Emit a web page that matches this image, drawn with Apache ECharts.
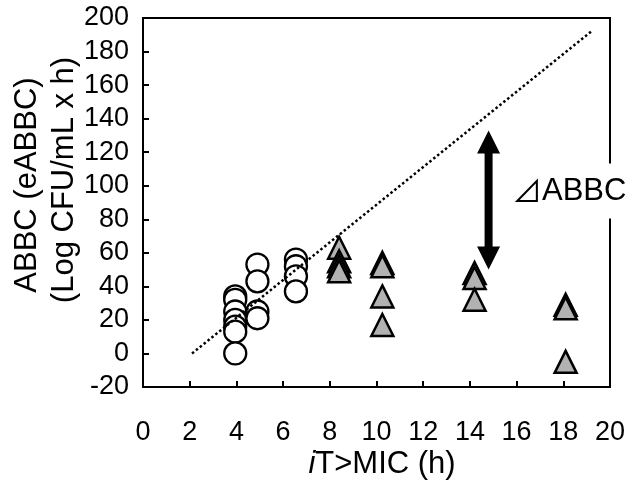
<!DOCTYPE html>
<html>
<head>
<meta charset="utf-8">
<script src="https://cdn.jsdelivr.net/npm/echarts@6/dist/echarts.min.js"></script>
<style>
  html, body { margin: 0; padding: 0; background: #fff; }
  #chart { width: 632px; height: 486px; }
</style>
</head>
<body>
<div id="chart"></div>
<script>
const FONT = '"Liberation Sans", Arial, Helvetica, sans-serif';
const SYMBOL_FONT = '"Noto Sans CJK JP", "Liberation Sans", sans-serif';

// Regimens with short time above MIC (open circles)
const circleX = [3.95, 3.95, 3.95, 3.95, 3.95, 3.95, 3.95, 4.9, 4.9, 4.9, 4.9, 6.55, 6.55, 6.55, 6.55];
const circleY = [34, 32, 25, 20, 16, 13, 0, 53, 43, 25, 21, 56, 52, 46, 37];

// Regimens with longer time above MIC (grey triangles)
const triangleX = [8.4, 8.4, 8.4, 8.4, 10.25, 10.25, 10.25, 10.25, 14.2, 14.2, 14.2, 18.1, 18.1, 18.1];
const triangleY = [63, 55, 52, 49, 54, 52, 34, 17, 48, 45, 32, 29, 27, -5];

// Expected ABBC (eABBC) reference line
const refLineX = [2.1, 19.2];
const refLineY = [0, 192];

// Double-headed arrow marking the ABBC shortfall
const arrowX = [14.8];
const arrowTop = [133];
const arrowBottom = [50];
const arrowSymbol = '⊿';
const arrowLabel = 'ABBC';

const zip = (xs, ys) => xs.map((x, i) => [x, ys[i]]);

const chart = echarts.init(document.getElementById('chart'), null, { renderer: 'canvas' });

const axisCommon = {
  axisLine: { show: true, onZero: false, lineStyle: { color: '#000', width: 2 } },
  axisTick: { show: true, inside: true, length: 6, lineStyle: { color: '#000', width: 2 } },
  splitLine: { show: false },
  axisLabel: { color: '#000', fontSize: 27, fontFamily: FONT }
};

chart.setOption({
  animation: false,
  backgroundColor: '#fff',
  grid: {
    left: 143, top: 18, right: 22, bottom: 99,
    show: true, borderColor: '#000', borderWidth: 2, backgroundColor: 'transparent'
  },
  xAxis: Object.assign({}, axisCommon, {
    type: 'value', min: 0, max: 20, interval: 2,
    axisLabel: Object.assign({}, axisCommon.axisLabel, { margin: 32 })
  }),
  yAxis: Object.assign({}, axisCommon, {
    type: 'value', min: -20, max: 200, interval: 20,
    axisLabel: Object.assign({}, axisCommon.axisLabel, { margin: 14 })
  }),
  series: [
    {
      type: 'scatter',
      data: zip(circleX, circleY),
      symbol: 'circle',
      symbolSize: 22,
      itemStyle: { color: '#fff', borderColor: '#000', borderWidth: 2.3, opacity: 1 },
      z: 2
    },
    {
      type: 'line',
      data: zip(refLineX, refLineY),
      showSymbol: false,
      symbol: 'none',
      lineStyle: { color: '#000', width: 2.5, type: [2.5, 2.5] },
      z: 3
    },
    {
      type: 'scatter',
      data: zip(triangleX, triangleY),
      symbol: 'triangle',
      symbolSize: [22, 22],
      itemStyle: { color: '#b2b2b2', borderColor: '#000', borderWidth: 2.5, opacity: 1 },
      z: 4
    },
    {
      type: 'custom',
      data: arrowX.map((x, i) => [x, arrowTop[i], arrowBottom[i]]),
      encode: { x: 0, y: [1, 2] },
      renderItem: function (params, api) {
        const top = api.coord([api.value(0), api.value(1)]);
        const bot = api.coord([api.value(0), api.value(2)]);
        const x = top[0], t = top[1], b = bot[1];
        const hw = 11.5, hh = 23, sw = 4;
        return {
          type: 'polygon',
          shape: {
            points: [
              [x, t], [x + hw, t + hh], [x + sw, t + hh], [x + sw, b - hh], [x + hw, b - hh],
              [x, b], [x - hw, b - hh], [x - sw, b - hh], [x - sw, t + hh], [x - hw, t + hh]
            ]
          },
          style: { fill: '#000' }
        };
      },
      z: 5
    }
  ],
  graphic: [
    {
      type: 'text', z: 100,
      x: 512, y: 191,
      style: {
        text: '{s|' + arrowSymbol + '}' + arrowLabel,
        rich: { s: { fontFamily: SYMBOL_FONT, fontSize: 30, fill: '#000' } },
        fill: '#000', fontSize: 31, fontFamily: FONT,
        textVerticalAlign: 'middle', verticalAlign: 'middle',
        backgroundColor: '#fff', padding: [12, 4, 12, 0]
      }
    },
    {
      type: 'text', z: 100,
      x: 27, y: 185, rotation: Math.PI / 2,
      style: {
        text: 'ABBC (eABBC)', fill: '#000', fontSize: 31, fontFamily: FONT,
        textAlign: 'center', align: 'center', textVerticalAlign: 'middle', verticalAlign: 'middle'
      }
    },
    {
      type: 'text', z: 100,
      x: 64, y: 180, rotation: Math.PI / 2,
      style: {
        text: '(Log CFU/mL x h)', fill: '#000', fontSize: 31, fontFamily: FONT,
        textAlign: 'center', align: 'center', textVerticalAlign: 'middle', verticalAlign: 'middle'
      }
    },
    {
      type: 'text', z: 100,
      x: 382, y: 464,
      style: {
        text: '{i|i}T>MIC (h)',
        rich: { i: { fontStyle: 'italic', fontSize: 31, fontFamily: FONT } },
        fill: '#000', fontSize: 31, fontFamily: FONT,
        textAlign: 'center', align: 'center', textVerticalAlign: 'middle', verticalAlign: 'middle'
      }
    }
  ]
});
</script>
</body>
</html>
